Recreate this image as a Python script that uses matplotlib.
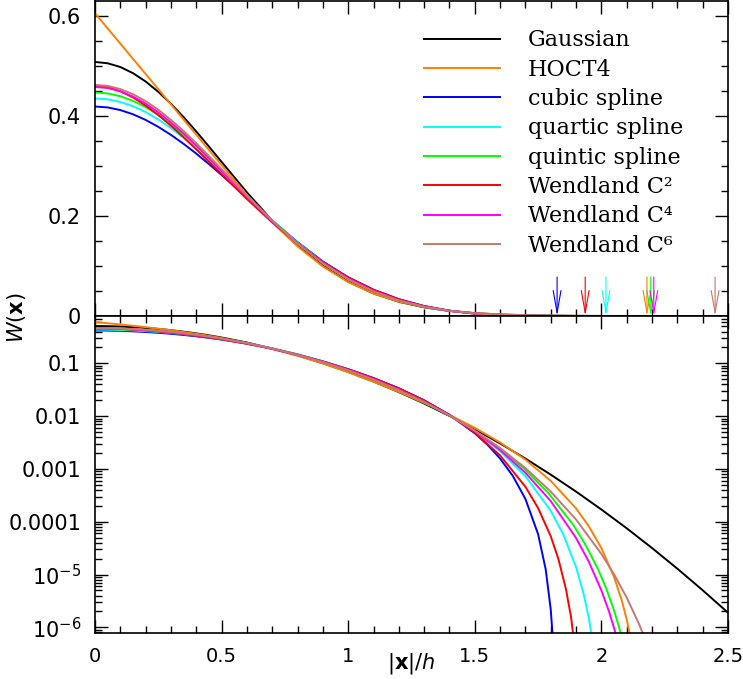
import matplotlib
matplotlib.use('Agg')
import matplotlib.pyplot as plt
import numpy as np
from matplotlib.ticker import MultipleLocator, LogLocator, FixedLocator, NullFormatter, FuncFormatter

# kernel curves: W(x) against |x|/h
gauss_x = [0, 0.05, 0.1, 0.15, 0.2, 0.25, 0.3, 0.35, 0.4, 0.45, 0.5, 0.6, 0.7, 0.8, 0.9, 1.0,
           1.1, 1.2, 1.3, 1.4, 1.5, 1.6, 1.7, 1.8, 1.9, 2.0, 2.1, 2.2, 2.3, 2.4, 2.5]
gauss_w = [0.5080, 0.5054, 0.4979, 0.4856, 0.4689, 0.4483, 0.4243, 0.3976, 0.3689, 0.3388,
           0.3081, 0.2472, 0.1906, 0.1412, 0.1005, 0.06875, 0.04517, 0.02851, 0.01730,
           0.01008, 0.005643, 0.003036, 0.001569, 7.79e-4, 3.717e-4, 1.704e-4, 7.51e-5,
           3.176e-5, 1.291e-5, 5.04e-6, 1.893e-6]

hoct4_x = [0, 0.1, 0.2, 0.3, 0.4, 0.4676, 0.5, 0.6, 0.7, 0.8, 0.9, 1.0, 1.1, 1.2, 1.3, 1.4,
           1.5, 1.6, 1.7, 1.8, 1.9, 1.95, 2.0, 2.05, 2.08, 2.1, 2.12, 2.14, 2.185]
hoct4_w = [0.6053, 0.5446, 0.4839, 0.4231, 0.3624, 0.3214, 0.3017, 0.2423, 0.1873, 0.1391,
           0.09915, 0.06790, 0.04488, 0.02872, 0.01776, 0.01056, 0.005992, 0.003171,
           0.001498, 5.947e-4, 1.786e-4, 8.255e-5, 3.171e-5, 8.99e-6, 3.29e-6, 1.413e-6,
           4.83e-7, 1.11e-7, 0]

cubic_x = [0, 0.05, 0.1, 0.15, 0.2, 0.25, 0.3, 0.35, 0.4, 0.45, 0.5, 0.6, 0.7, 0.8, 0.9, 1.0,
           1.1, 1.2, 1.3, 1.4, 1.5, 1.55, 1.6, 1.65, 1.7, 1.75, 1.78, 1.8, 1.81, 1.815, 1.825]
cubic_w = [0.4189, 0.4171, 0.4118, 0.4034, 0.3921, 0.3782, 0.3622, 0.3442, 0.3247, 0.3038,
           0.2820, 0.2366, 0.1910, 0.1477, 0.1091, 0.07740, 0.05253, 0.03365, 0.01995,
           0.01058, 0.004732, 0.002867, 0.001570, 7.388e-4, 2.692e-4, 5.815e-5, 1.256e-5,
           2.154e-6, 4.65e-7, 1.38e-7, 0]

quartic_x = [0, 0.05, 0.1, 0.15, 0.2, 0.25, 0.3, 0.35, 0.4, 0.45, 0.5, 0.6, 0.7, 0.8, 0.9,
             1.0, 1.1, 1.2, 1.3, 1.4, 1.5, 1.6, 1.7, 1.8, 1.85, 1.9, 1.93, 1.95, 1.97, 1.98,
             2.018]
quartic_w = [0.4350, 0.4333, 0.4281, 0.4195, 0.4078, 0.3931, 0.3758, 0.3561, 0.3345, 0.3115,
             0.2875, 0.2386, 0.1908, 0.1467, 0.1080, 0.07585, 0.05057, 0.03191, 0.01894,
             0.01040, 0.005132, 0.002176, 7.289e-4, 1.610e-4, 5.678e-5, 1.382e-5, 4.27e-6,
             1.524e-6, 3.78e-7, 1.49e-7, 0]

quintic_x = [0, 0.05, 0.0995, 0.15, 0.199, 0.25, 0.298, 0.35, 0.398, 0.45, 0.497, 0.597,
             0.696, 0.796, 0.895, 0.995, 1.094, 1.193, 1.293, 1.392, 1.492, 1.591, 1.691,
             1.790, 1.890, 1.939, 1.989, 2.019, 2.049, 2.069, 2.089, 2.108, 2.195]
quintic_w = [0.4470, 0.4451, 0.4395, 0.4302, 0.4179, 0.4020, 0.3842, 0.3629, 0.3414, 0.3164,
             0.2928, 0.2421, 0.1928, 0.1476, 0.1084, 0.07613, 0.05092, 0.03227, 0.01926,
             0.01076, 0.005552, 0.002590, 0.001053, 3.510e-4, 8.571e-5, 3.524e-5, 1.195e-5,
             5.46e-6, 2.157e-6, 1.038e-6, 4.41e-7, 1.57e-7, 0]

wc2_x = [0, 0.05, 0.1, 0.15, 0.2, 0.25, 0.3, 0.35, 0.4, 0.45, 0.5, 0.6, 0.7, 0.8, 0.9, 1.0,
         1.1, 1.2, 1.3, 1.4, 1.5, 1.6, 1.7, 1.75, 1.8, 1.83, 1.86, 1.88, 1.90, 1.91, 1.936]
wc2_w = [0.4606, 0.4577, 0.4495, 0.4370, 0.4208, 0.4018, 0.3805, 0.3575, 0.3333, 0.3085,
         0.2835, 0.2339, 0.1872, 0.1449, 0.1080, 0.07716, 0.05241, 0.03347, 0.01977,
         0.01053, 0.004857, 0.001799, 4.590e-4, 1.811e-4, 5.293e-5, 1.979e-5, 5.30e-6,
         1.575e-6, 2.71e-7, 7.4e-8, 0]

wc4_x = [0, 0.05, 0.1, 0.15, 0.2, 0.25, 0.3, 0.35, 0.4, 0.45, 0.5, 0.6, 0.7, 0.8, 0.9, 1.0,
         1.1, 1.2, 1.3, 1.4, 1.5, 1.6, 1.7, 1.8, 1.9, 1.95, 2.0, 2.03, 2.06, 2.08, 2.1, 2.207]
wc4_w = [0.4580, 0.4559, 0.4494, 0.4389, 0.4247, 0.4073, 0.3872, 0.3649, 0.3409, 0.3158,
         0.2901, 0.2385, 0.1893, 0.1448, 0.1064, 0.07493, 0.05025, 0.03187, 0.01894,
         0.01040, 0.005181, 0.002276, 8.444e-4, 2.460e-4, 4.915e-5, 1.760e-5, 4.99e-6,
         2.00e-6, 6.70e-7, 2.83e-7, 1.03e-7, 0]

wc6_x = [0, 0.05, 0.1, 0.15, 0.2, 0.25, 0.3, 0.35, 0.4, 0.45, 0.5, 0.6, 0.7, 0.8, 0.9, 1.0,
         1.1, 1.2, 1.3, 1.4, 1.5, 1.6, 1.7, 1.8, 1.9, 2.0, 2.05, 2.1, 2.15, 2.18, 2.21, 2.449]
wc6_w = [0.4622, 0.4601, 0.4538, 0.4436, 0.4296, 0.4124, 0.3922, 0.3698, 0.3455, 0.3199,
         0.2936, 0.2406, 0.1901, 0.1445, 0.1054, 0.07368, 0.04911, 0.03107, 0.01853,
         0.01033, 0.005318, 0.002490, 0.001037, 3.721e-4, 1.097e-4, 2.457e-5, 1.009e-5,
         3.65e-6, 1.117e-6, 4.95e-7, 1.98e-7, 0]

labels = ['Gaussian', 'HOCT4', 'cubic spline', 'quartic spline', 'quintic spline',
          'Wendland C\u00b2', 'Wendland C\u2074', 'Wendland C\u2076']
colors = ['black', '#ff8000', '#0000ff', '#00ffff', '#00ff00', '#ff0000', '#ff00ff', '#c8786e']

# compact support radius H/h of each kernel (arrows in the upper panel)
support_h = [2.18, 1.825, 2.018, 2.195, 1.936, 2.207, 2.449]
support_colors = ['#ff8000', '#0000ff', '#00ffff', '#00ff00', '#ff0000', '#ff00ff', '#c8786e']

log_ticks = [1e-6, 1e-5, 1e-4, 1e-3, 1e-2, 1e-1]
log_tick_labels = [r'$10^{-6}$', r'$10^{-5}$', '0.0001', '0.001', '0.01', '0.1']

curves = [(gauss_x, gauss_w), (hoct4_x, hoct4_w), (cubic_x, cubic_w), (quartic_x, quartic_w),
          (quintic_x, quintic_w), (wc2_x, wc2_w), (wc4_x, wc4_w), (wc6_x, wc6_w)]

fig = plt.figure(figsize=(7.43, 6.79), dpi=100)
ax1 = fig.add_axes([0.1279, 0.5346, 0.8519, 0.4640])
ax2 = fig.add_axes([0.1279, 0.0677, 0.8519, 0.4669])

for (x, w), lab, c in zip(curves, labels, colors):
    x = np.array(x)
    w = np.array(w)
    ax1.plot(x, w, color=c, lw=1.4, label=lab)
    pos = w > 0
    ax2.plot(x[pos], w[pos], color=c, lw=1.4)

for h, c in zip(support_h, support_colors):
    ax1.annotate('', xy=(h, 0.0), xytext=(h, 0.078),
                 arrowprops=dict(arrowstyle='->,head_length=1.6,head_width=0.28',
                                 color=c, lw=0.8, shrinkA=0, shrinkB=0))

ax1.set_xlim(0, 2.5)
ax1.set_ylim(0, 0.63)
ax2.set_xlim(0, 2.5)
ax2.set_yscale('log')
ax2.set_ylim(7.8e-7, 0.787)

for ax in (ax1, ax2):
    ax.xaxis.set_major_locator(MultipleLocator(0.5))
    ax.xaxis.set_minor_locator(MultipleLocator(0.1))
    ax.tick_params(which='both', direction='in', top=True, right=True, width=1.0,
                   labelsize=15, pad=10)
    ax.tick_params(which='major', length=9.7)
    ax.tick_params(which='minor', length=4.7)
    for s in ax.spines.values():
        s.set_linewidth(1.2)
ax2.tick_params(axis='x', labelsize=14)

ax1.yaxis.set_major_locator(MultipleLocator(0.2))
ax1.yaxis.set_minor_locator(MultipleLocator(0.05))
ax1.yaxis.set_major_formatter(FuncFormatter(lambda v, p: '0' if abs(v) < 1e-9 else '%g' % v))
ax1.tick_params(labelbottom=False)

ax2.yaxis.set_major_locator(FixedLocator(log_ticks))
ax2.yaxis.set_minor_locator(LogLocator(base=10, subs=np.arange(2, 10), numticks=20))
ax2.yaxis.set_minor_formatter(NullFormatter())
ax2.set_yticklabels(log_tick_labels)
ax2.xaxis.set_major_formatter(FuncFormatter(lambda v, p: '%g' % v))

ax1.legend(loc='upper left', bbox_to_anchor=(0.52, 0.91), frameon=False,
           prop={'family': 'DejaVu Serif', 'size': 16}, handlelength=3.4,
           handletextpad=1.25, labelspacing=0.33, borderpad=0, borderaxespad=0)

fig.text(0.0225, 0.532, r'$W(\mathbf{x})$', rotation=90, ha='center', va='center', fontsize=15)
fig.text(0.553, 0.004, r'$|\mathbf{x}|/h$', ha='center', va='bottom', fontsize=15)

fig.savefig('out.png', dpi=100)
